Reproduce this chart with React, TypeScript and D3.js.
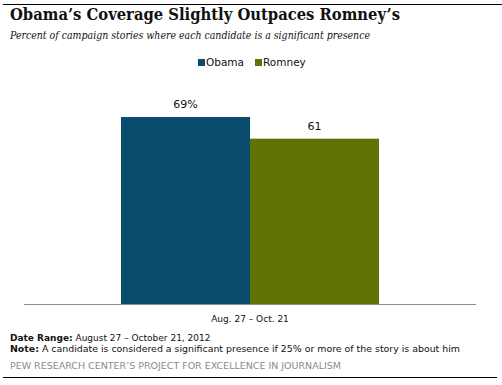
import { useEffect, useRef } from "react";
import * as d3 from "d3";

const categories = ["Aug. 27 – Oct. 21"];
const seriesNames = ["Obama", "Romney"];
const seriesValues = [[69], [61]];
const valueLabels = [["69%"], ["61"]];
const colors = ["#0a4c6d", "#5f7307"];

const W = 502;
const H = 385;
const sans = "Verdana, 'DejaVu Sans', sans-serif";
const serif = "'DejaVu Serif', Georgia, serif";

const App = () => {
  const ref = useRef<SVGSVGElement | null>(null);

  useEffect(() => {
    const svg = d3.select(ref.current);
    svg.selectAll("*").remove();

    // frame lines
    svg.append("line").attr("x1", 3).attr("x2", W).attr("y1", 4.5).attr("y2", 4.5)
      .attr("stroke", "#000").attr("stroke-width", 1.2);
    svg.append("line").attr("x1", 3).attr("x2", 497).attr("y1", 377.5).attr("y2", 377.5)
      .attr("stroke", "#000").attr("stroke-width", 1.2);

    // title + subtitle
    svg.append("text").attr("x", 10).attr("y", 20)
      .style("font-family", serif).style("font-weight", "bold").style("font-size", "16px")
      .attr("textLength", 390).attr("lengthAdjust", "spacingAndGlyphs")
      .attr("fill", "#111").text("Obama’s Coverage Slightly Outpaces Romney’s");
    svg.append("text").attr("x", 10).attr("y", 39)
      .style("font-family", serif).style("font-style", "italic").style("font-size", "10.5px")
      .attr("textLength", 360).attr("lengthAdjust", "spacingAndGlyphs")
      .attr("fill", "#111").text("Percent of campaign stories where each candidate is a significant presence");

    // legend
    const legendX = [198, 255];
    seriesNames.forEach((name, i) => {
      svg.append("rect").attr("x", legendX[i]).attr("y", 59).attr("width", 7).attr("height", 7)
        .attr("fill", colors[i]);
      svg.append("text").attr("x", legendX[i] + 8).attr("y", 66)
        .style("font-family", sans).style("font-size", "10.5px").attr("fill", "#111").text(name);
    });

    // scales
    const x0 = d3.scaleBand<string>().domain(categories).range([24, 476]).paddingOuter(0.376);
    const x1 = d3.scaleBand<string>().domain(seriesNames).range([0, x0.bandwidth()]);
    const y = d3.scaleLinear().domain([0, 100]).range([304, 33]);

    seriesNames.forEach((name, si) => {
      categories.forEach((cat, ci) => {
        const v = seriesValues[si][ci];
        const bx = (x0(cat) ?? 0) + (x1(name) ?? 0);
        svg.append("rect").attr("x", bx).attr("y", y(v)).attr("width", x1.bandwidth())
          .attr("height", y(0) - y(v)).attr("fill", colors[si]);
        svg.append("text").attr("x", bx + x1.bandwidth() / 2).attr("y", y(v) - 9)
          .attr("text-anchor", "middle").style("font-family", sans).style("font-size", "11px")
          .attr("fill", "#111").text(valueLabels[si][ci]);
      });
    });

    // axis
    svg.append("line").attr("x1", 24).attr("x2", 476).attr("y1", y(0) + 0.5).attr("y2", y(0) + 0.5)
      .attr("stroke", "#8c8c8c").attr("stroke-width", 1);
    categories.forEach((cat) => {
      svg.append("text").attr("x", (x0(cat) ?? 0) + x0.bandwidth() / 2).attr("y", 322)
        .attr("text-anchor", "middle").style("font-family", sans).style("font-size", "9px")
        .attr("fill", "#111").text(cat);
    });

    // footer
    const dr = svg.append("text").attr("x", 10).attr("y", 341)
      .style("font-family", sans).style("font-size", "9px").attr("fill", "#111");
    dr.append("tspan").style("font-weight", "bold").text("Date Range:");
    dr.append("tspan").text("  August 27 – October 21, 2012");
    const nt = svg.append("text").attr("x", 10).attr("y", 352)
      .style("font-family", sans).style("font-size", "9px").attr("fill", "#111")
      .attr("textLength", 450).attr("lengthAdjust", "spacingAndGlyphs");
    nt.append("tspan").style("font-weight", "bold").text("Note:");
    nt.append("tspan").text(" A candidate is considered a significant presence if 25% or more of the story is about him");
    svg.append("text").attr("x", 10).attr("y", 369)
      .style("font-family", sans).style("font-size", "9px").attr("fill", "#8a8a8a")
      .attr("textLength", 331).attr("lengthAdjust", "spacingAndGlyphs")
      .text("PEW RESEARCH CENTER’S PROJECT FOR EXCELLENCE IN JOURNALISM");
  }, []);

  return (
    <svg ref={ref} width={W} height={H} style={{ position: "absolute", left: 0, top: 0, background: "#fff" }} />
  );
};

export default App;
